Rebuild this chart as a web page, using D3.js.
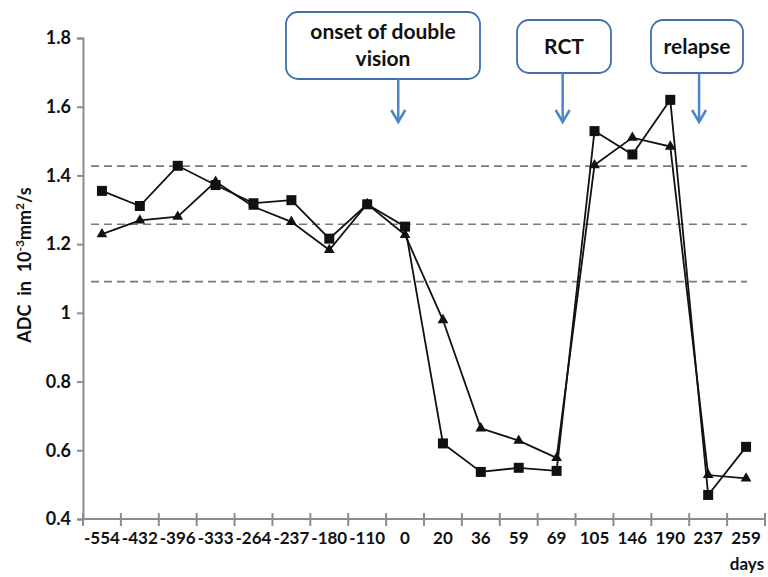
<!DOCTYPE html>
<html>
<head>
<meta charset="utf-8">
<script src="https://cdn.jsdelivr.net/npm/d3@7"></script>
<style>
  body { margin: 0; background: #fff; }
  text { font-family: Lato, "Open Sans", sans-serif; font-weight: bold; }
</style>
</head>
<body>
<div id="chart"></div>
<script>
// categories (days)
const days = ["-554","-432","-396","-333","-264","-237","-180","-110","0","20","36","59","69","105","146","190","237","259"];
// square series
const adcSquare = [1.355,1.311,1.428,1.372,1.319,1.328,1.216,1.316,1.251,0.620,0.537,0.549,0.540,1.529,1.461,1.620,0.470,0.610];
// triangle series
const adcTriangle = [1.229,1.269,1.280,1.382,1.309,1.265,1.183,1.317,1.227,0.979,0.664,0.628,0.578,1.430,1.510,1.484,0.528,0.518];
// reference lines (dashed)
const refLines = [1.427,1.258,1.091];
const yTicks = [0.4,0.6,0.8,1,1.2,1.4,1.6,1.8];
// callouts: label lines, arrow position between categories
const callouts = [
  {lines:["onset of double","vision"], at:"0", shift:-0.18, box:[286,480,12,79]},
  {lines:["RCT"], at:"69", shift:0.16, box:[517,611,20,73]},
  {lines:["relapse"], at:"237", shift:-0.24, box:[651,743,20,73]}
];

const W = 768, H = 577;
const mLeft = 83, mRight = 765, mTop = 38, mBottom = 519;

const svg = d3.select("#chart").append("svg")
  .attr("width", W).attr("height", H);

const x = d3.scaleBand().domain(days).range([mLeft, mRight]);
const y = d3.scaleLinear().domain([0.4, 1.8]).range([mBottom, mTop]);
const axisColor = "#8c8c8c";

// dashed reference lines
svg.selectAll("line.ref").data(refLines).enter().append("line")
  .attr("class","ref")
  .attr("x1", x(days[0]) + 8).attr("x2", x(days[days.length-1]) + x.bandwidth() - 18)
  .attr("y1", d => y(d)).attr("y2", d => y(d))
  .attr("stroke", "#7a7a7a").attr("stroke-width", 1.6)
  .attr("stroke-dasharray", "8,5");

// y axis
const yAxis = d3.axisLeft(y).tickValues(yTicks).tickSize(6)
  .tickFormat(d => d === 1 ? "1" : d3.format(".1f")(d));
const gy = svg.append("g").attr("transform", `translate(${mLeft},0)`).call(yAxis);
gy.select(".domain").attr("stroke", axisColor).attr("stroke-width", 2);
gy.selectAll(".tick line").attr("stroke", axisColor).attr("stroke-width", 2);
gy.selectAll(".tick text").attr("font-size", 18).attr("fill", "#111").attr("x", -12)
  .style("font-family", "Lato, sans-serif").style("font-weight", "bold");

// x axis
const gx = svg.append("g").attr("transform", `translate(0,${mBottom})`);
gx.append("line").attr("x1", mLeft).attr("x2", mRight)
  .attr("stroke", axisColor).attr("stroke-width", 2);
const bounds = days.map(d => x(d)).concat([mRight]);
gx.selectAll("line.tk").data(bounds).enter().append("line")
  .attr("class","tk")
  .attr("x1", d => d).attr("x2", d => d).attr("y1", -6).attr("y2", 7)
  .attr("stroke", axisColor).attr("stroke-width", 2);
gx.selectAll("text.lbl").data(days).enter().append("text")
  .attr("class","lbl")
  .attr("x", d => x(d) + x.bandwidth()/2).attr("y", 25)
  .attr("text-anchor", "middle").attr("font-size", 17).attr("fill", "#111")
  .text(d => d);
svg.append("text").attr("x", 747).attr("y", 570).attr("text-anchor","middle")
  .attr("font-size", 17).attr("fill", "#111").text("days");

// y label
const yl = svg.append("text")
  .attr("transform", "translate(31,265) rotate(-90)")
  .style("white-space", "pre")
  .attr("text-anchor", "middle").attr("font-size", 18).attr("fill", "#111");
yl.append("tspan").text("ADC  in  10");
yl.append("tspan").attr("dy", -7).attr("font-size", 12).text("-3");
yl.append("tspan").attr("dy", 7).text("mm");
yl.append("tspan").attr("dy", -7).attr("font-size", 12).text("2");
yl.append("tspan").attr("dy", 7).text("/s");

// lines
const cx = d => x(d) + x.bandwidth()/2;
const line = d3.line().x(d => cx(d[0])).y(d => y(d[1]));
const sqData = days.map((d,i) => [d, adcSquare[i]]);
const trData = days.map((d,i) => [d, adcTriangle[i]]);

svg.append("path").datum(trData).attr("d", line)
  .attr("fill","none").attr("stroke","#111").attr("stroke-width",1.8);
svg.append("path").datum(sqData).attr("d", line)
  .attr("fill","none").attr("stroke","#111").attr("stroke-width",1.8);

svg.selectAll("path.tri").data(trData).enter().append("path")
  .attr("class","tri")
  .attr("d", d3.symbol().type(d3.symbolTriangle).size(50))
  .attr("transform", d => `translate(${cx(d[0])},${y(d[1])})`)
  .attr("fill","#111");
svg.selectAll("rect.sq").data(sqData).enter().append("rect")
  .attr("class","sq")
  .attr("x", d => cx(d[0]) - 5).attr("y", d => y(d[1]) - 5)
  .attr("width", 10).attr("height", 10).attr("fill","#111");

// callouts
const blue = "#3f6fae", arrowBlue = "#4a86c8";
callouts.forEach(c => {
  const [x0,x1,y0,y1] = c.box;
  svg.append("rect").attr("x", x0).attr("y", y0)
    .attr("width", x1 - x0).attr("height", y1 - y0)
    .attr("rx", 12).attr("ry", 12)
    .attr("fill","#fff").attr("stroke", blue).attr("stroke-width", 1.8);
  const n = c.lines.length;
  c.lines.forEach((t, i) => {
    svg.append("text").attr("x", (x0 + x1)/2)
      .attr("y", (y0 + y1)/2 + 7 + (i - (n-1)/2) * 27)
      .attr("text-anchor","middle").attr("font-size", 21).attr("fill","#111")
      .text(t);
  });
  const ax = cx(c.at) + c.shift * x.bandwidth();
  svg.append("line").attr("x1", ax).attr("x2", ax).attr("y1", y1).attr("y2", 122)
    .attr("stroke", arrowBlue).attr("stroke-width", 2.5);
  svg.append("path")
    .attr("d", `M${ax-7},${110} L${ax},${122} L${ax+7},${110}`)
    .attr("fill","none").attr("stroke", arrowBlue).attr("stroke-width", 2.5);
});
</script>
</body>
</html>
